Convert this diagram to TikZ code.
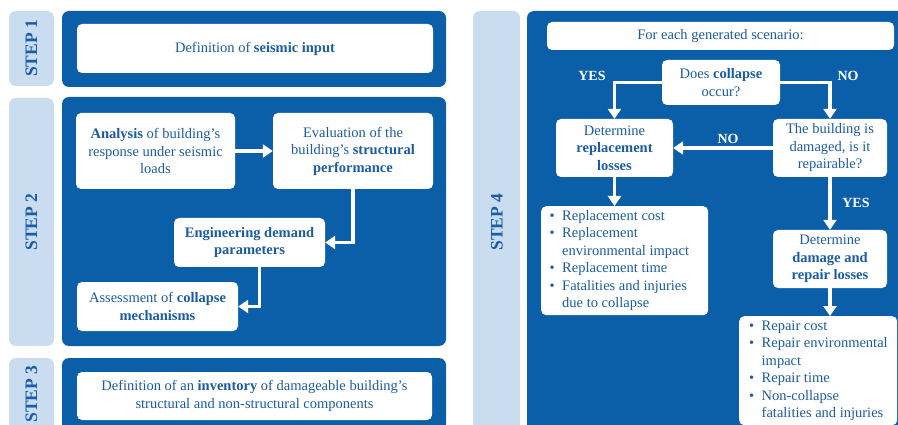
\documentclass[tikz,border=0pt]{standalone}
\usepackage{fontspec}
\setmainfont{Liberation Serif}
\usetikzlibrary{arrows.meta}
\definecolor{pblue}{HTML}{0B5FA9}
\definecolor{lblue}{HTML}{C9DCF0}
\definecolor{tblue}{HTML}{1A5CA6}
\newcommand\bul{\makebox[12.5pt][l]{\textbullet}}
\begin{document}
\begin{tikzpicture}[x=1pt,y=-1pt,
 panel/.style={fill=pblue, rounded corners=7pt},
 lab/.style={fill=lblue, rounded corners=7pt},
 steptxt/.style={rotate=90, font=\fontsize{17.5}{20}\selectfont\bfseries, text=tblue},
 wbox/.style={fill=white, rounded corners=5pt, text=tblue, align=center, font=\fontsize{14.5}{17.5}\selectfont, inner sep=2pt},
 flow/.style={draw=white, line width=3.5pt, -{Triangle[width=13pt,length=10pt]}},
 yn/.style={text=white, font=\fontsize{14}{17}\selectfont\bfseries}
]
\useasboundingbox (0,0) rectangle (898,425);
\clip (0,0) rectangle (898,425);
% STEP 1
\path[lab] (9,11) rectangle (54,86);
\node[steptxt] (s1) at (31.5,48.5) {STEP 1};
\path[panel] (62,11) rectangle (446,87);
\node[wbox, minimum width=356pt, minimum height=49pt] (seis) at (255,48.5) {Definition of \textbf{seismic input}};
% STEP 2
\path[lab] (9,98) rectangle (54,346);
\node[steptxt] (s2) at (31.5,222) {STEP 2};
\path[panel] (62,97) rectangle (446,346);
\node[wbox, minimum width=159pt, minimum height=76pt] (ana) at (155.5,151) {\textbf{Analysis} of building's\\response under seismic\\loads};
\node[wbox, minimum width=160pt, minimum height=76pt] (eva) at (353,151) {Evaluation of the\\building's \textbf{structural}\\\textbf{performance}};
\node[wbox, minimum width=151pt, minimum height=49pt] (eng) at (249.5,242.5) {\textbf{Engineering demand}\\\textbf{parameters}};
\node[wbox, minimum width=161pt, minimum height=49pt] (ass) at (157.5,306.5) {Assessment of \textbf{collapse}\\\textbf{mechanisms}};
\draw[flow] (ana.east) -- (eva.west);
\draw[flow] (eva.south) |- (eng.east);
\draw[flow] ([xshift=10pt]eng.south) |- (ass.east);
% STEP 3
\path[lab] (9,358) rectangle (54,440);
\node[steptxt] (s3) at (31.5,394) {STEP 3};
\path[panel] (62,358) rectangle (446,440);
\node[wbox, minimum width=355pt, minimum height=48pt] (inv) at (254.5,396) {Definition of an \textbf{inventory} of damageable building's\\structural and non-structural components};
% STEP 4
\path[lab] (473,11) rectangle (520,440);
\node[steptxt] (s4) at (497,222) {STEP 4};
\path[panel] (527,11) rectangle (915,440);
\node[wbox, minimum width=347pt, minimum height=28pt] (scen) at (720.5,36) {For each generated scenario:};
\node[wbox, minimum width=118pt, minimum height=45pt] (col) at (721,82.5) {Does \textbf{collapse}\\occur?};
\node[wbox, minimum width=117pt, minimum height=58pt] (rep) at (614.5,148) {Determine\\\textbf{replacement}\\\textbf{losses}};
\node[wbox, minimum width=114pt, minimum height=58pt] (rpb) at (830,148) {The building is\\damaged, is it\\repairable?};
\node[wbox, minimum width=167pt, minimum height=106pt, anchor=north west] (rlist) at (541,206) {\makebox[150pt][l]{\begin{tabular}{@{}l@{}l@{}}
\bul & Replacement cost\\
\bul & Replacement\\
 & environmental impact\\
\bul & Replacement time\\
\bul & Fatalities and injuries\\
 & due to collapse
\end{tabular}}};
\node[wbox, minimum width=114pt, minimum height=58pt] (dam) at (830,259) {Determine\\\textbf{damage and}\\\textbf{repair losses}};
\node[wbox, minimum width=158pt, minimum height=108pt, anchor=north west] (plist) at (739,316) {\makebox[138pt][l]{\begin{tabular}{@{}l@{}l@{}}
\bul & Repair cost\\
\bul & Repair environmental\\
 & impact\\
\bul & Repair time\\
\bul & Non-collapse\\
 & fatalities and injuries
\end{tabular}}};
\draw[flow] (col.west) -| (rep.north);
\draw[flow] (col.east) -| (rpb.north);
\draw[flow] (rpb.west) -- (rep.east);
\draw[flow] (rep.south) -- (rep.south |- rlist.north);
\draw[flow] (rpb.south) -- (dam.north);
\draw[flow] (dam.south) -- (dam.south |- plist.north);
\node[yn] (y1) at (592,76) {YES};
\node[yn] (n1) at (848,76) {NO};
\node[yn] (n2) at (728,139) {NO};
\node[yn] (y2) at (856,203) {YES};
\end{tikzpicture}
\end{document}
